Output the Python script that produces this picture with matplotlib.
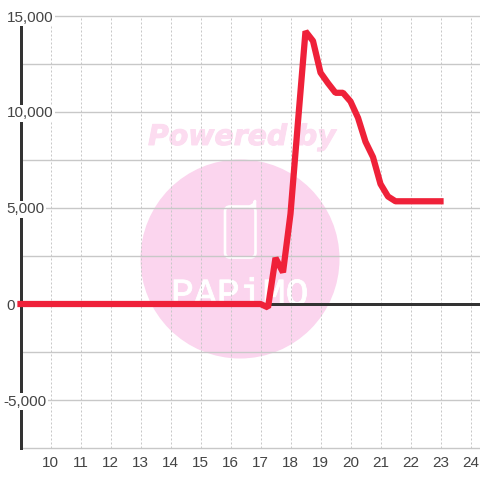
import matplotlib
matplotlib.use('Agg')
import matplotlib.pyplot as plt
import matplotlib.patheffects as pe
from matplotlib.patches import Circle, FancyBboxPatch
from matplotlib.lines import Line2D
from matplotlib.transforms import Affine2D, blended_transform_factory

hours = [9, 9.25, 9.5, 9.75, 10, 10.25, 10.5, 10.75, 11, 11.25, 11.5, 11.75,
         12, 12.25, 12.5, 12.75, 13, 13.25, 13.5, 13.75, 14, 14.25, 14.5, 14.75,
         15, 15.25, 15.5, 15.75, 16, 16.25, 16.5, 16.75, 17, 17.25, 17.5, 17.75,
         18, 18.25, 18.5, 18.75, 19, 19.25, 19.5, 19.75, 20, 20.25, 20.5, 20.75,
         21, 21.25, 21.5, 21.75, 22, 22.25, 22.5, 22.75, 23]
values = [0, 0, 0, 0, 0, 0, 0, 0, 0, 0, 0, 0,
          0, 0, 0, 0, 0, 0, 0, 0, 0, 0, 0, 0,
          0, 0, 0, 0, 0, 0, 0, 0, 0, -180, 2400, 1650,
          4700, 9500, 14200, 13700, 12050, 11500, 11000, 11000, 10550, 9700, 8450, 7650,
          6250, 5600, 5350, 5350, 5350, 5350, 5350, 5350, 5350]
x_ticks = [10, 11, 12, 13, 14, 15, 16, 17, 18, 19, 20, 21, 22, 23, 24]
y_grid = [-7500, -5000, -2500, 0, 2500, 5000, 7500, 10000, 12500, 15000]
y_labels = {15000: '15,000', 10000: '10,000', 5000: '5,000', 0: '0', -5000: '-5,000'}

plt.rcParams['font.family'] = ['Liberation Sans', 'DejaVu Sans']
RED = '#ef2139'
DARK = '#333333'
GRID = '#c8c8c8'
TEXT = '#444444'
PINK = '#fbd5ee'

fig = plt.figure(figsize=(4.8, 4.8), dpi=100)
ax = fig.add_axes([20.5 / 480, 32 / 480, 459.5 / 480, 432 / 480])
ax.set_xlim(9, 9 + 459.5 / 30)
ax.set_ylim(-7500, 15000)
for s in ax.spines.values():
    s.set_visible(False)

ax.set_axisbelow(True)
ax.set_xticks(x_ticks)
ax.set_yticks(y_grid)
ax.set_yticklabels([])
ax.tick_params(axis='both', length=0)
ax.tick_params(axis='x', labelsize=11, labelcolor=TEXT, pad=5.5)
ax.grid(axis='y', color=GRID, lw=1.0, clip_on=False)
ax.grid(axis='x', color=GRID, lw=0.72, linestyle=(0, (2, 2)))
for gl in ax.get_ygridlines():
    gl.set_clip_on(False)

# watermark, in image pixels
px = Affine2D().scale(1, -1).translate(0, 480)
ax.add_patch(Circle((240, 259), 99.5, transform=px, fc=PINK, ec='none', zorder=0.1, clip_on=False))
ax.add_patch(FancyBboxPatch((225, 206.5), 30.5, 51, boxstyle='round,pad=0,rounding_size=5', transform=px,
                            fc='none', ec='white', lw=1.9, zorder=0.2))
ax.add_line(Line2D([250, 254, 255, 255], [206.5, 204, 201, 208], transform=px, color='white', lw=1.9,
                   solid_capstyle='round', zorder=0.2))
ax.text(242, 145, 'Powered by', transform=px, family='DejaVu Sans', weight='bold', style='italic',
        fontsize=20.4, color='#fcdcf0', ha='center', va='baseline', zorder=0.2,
        path_effects=[pe.withStroke(linewidth=0.7, foreground='#fcdcf0')])
ax.text(240, 305, 'PAPiMO', transform=px, family='Liberation Mono', fontsize=27.5,
        color='white', ha='center', va='baseline', zorder=0.2,
        path_effects=[pe.withStroke(linewidth=0.6, foreground='white')])

ax.axvline(9, color=DARK, lw=2.16, zorder=1, clip_on=False)
ax.axhline(0, color=DARK, lw=2.16, zorder=1)

trans = blended_transform_factory(fig.transFigure, ax.transData) + Affine2D().translate(0, -1.5)
for v, lab in y_labels.items():
    left = 3 if v < 0 else 6.5
    ax.text(left / 480, v, lab, transform=trans, fontsize=11, color=TEXT, ha='left', va='center',
            zorder=2, clip_on=False, bbox=dict(fc='white', ec='none', pad=1.2))

ax.plot(hours, values, color=RED, lw=4.5, solid_capstyle='projecting', solid_joinstyle='bevel',
        zorder=3, clip_on=False)

fig.savefig('out.png', dpi=100)
